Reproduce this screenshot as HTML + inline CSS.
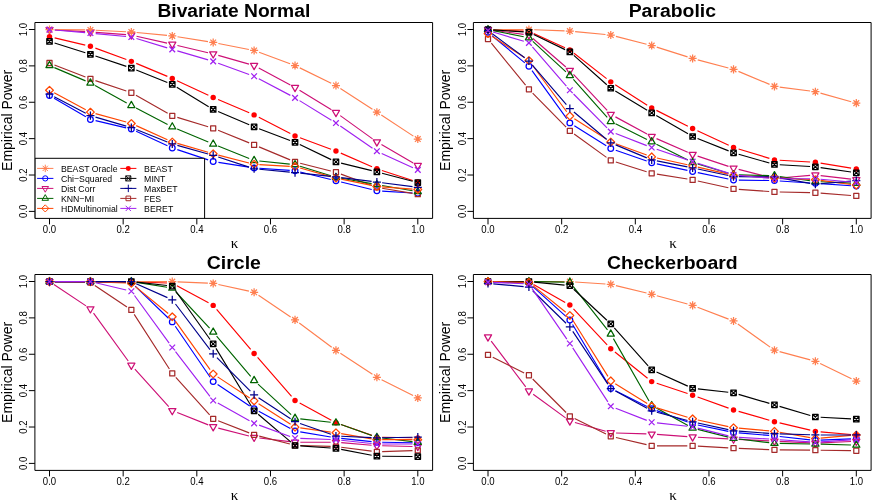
<!DOCTYPE html>
<html><head><meta charset="utf-8"><title>Empirical Power</title><style>html,body{margin:0;padding:0;background:#fff}
body{width:877px;height:504px;overflow:hidden}
svg{display:block;will-change:transform}
path,rect,circle{stroke-linejoin:round}
text{font-family:"Liberation Sans",sans-serif;fill:#000}
.tk{font-size:9.6px;text-anchor:middle}
.ti{font-size:18px;font-weight:bold;text-anchor:middle}
.yl{font-size:14px;text-anchor:middle}
.xl{font-family:"Liberation Serif",serif;font-size:15px;text-anchor:middle}
.lg{font-size:8.75px}
</style></head><body><svg width="877" height="504" viewBox="0 0 877 504"><defs><clipPath id="cb"><rect x="34.9" y="22.5" width="397.7" height="195.9"/></clipPath></defs><rect width="877" height="504" fill="#fff"/><g transform="translate(0,0)"><g clip-path="url(#cb)"><path d="M54.07 98.16L85.85 116.76M95.58 120.66L126.19 127.85M136.16 131.28L167.45 145.72M177.3 149.61L208.16 159.88M218.43 162.36L248.87 167.09M259.4 168.28L289.75 170.43M300.18 172.06L330.81 179.53M341.1 182.05L371.73 189.52M382.17 191.1L412.51 192.98" stroke="#0000FF" stroke-width="1.15" fill="none"/><circle cx="49.5" cy="95.48" r="2.85" stroke="#0000FF" stroke-width="1.25" fill="none"/><circle cx="90.42" cy="119.44" r="2.85" stroke="#0000FF" stroke-width="1.25" fill="none"/><circle cx="131.34" cy="129.06" r="2.85" stroke="#0000FF" stroke-width="1.25" fill="none"/><circle cx="172.27" cy="147.94" r="2.85" stroke="#0000FF" stroke-width="1.25" fill="none"/><circle cx="213.19" cy="161.55" r="2.85" stroke="#0000FF" stroke-width="1.25" fill="none"/><circle cx="254.11" cy="167.9" r="2.85" stroke="#0000FF" stroke-width="1.25" fill="none"/><circle cx="295.03" cy="170.81" r="2.85" stroke="#0000FF" stroke-width="1.25" fill="none"/><circle cx="335.96" cy="180.79" r="2.85" stroke="#0000FF" stroke-width="1.25" fill="none"/><circle cx="376.88" cy="190.77" r="2.85" stroke="#0000FF" stroke-width="1.25" fill="none"/><circle cx="417.8" cy="193.31" r="2.85" stroke="#0000FF" stroke-width="1.25" fill="none"/><path d="M54.79 29.91L85.13 31.65M95.71 32.36L126.06 34.65M136.51 36.21L167.1 43.13M177.43 45.51L208.03 52.71M218.29 55.37L249.01 64.09M258.78 68.04L290.36 84.99M299.55 90.27L331.44 109.78M340.26 115.64L372.57 138.86M381.47 144.6L413.21 162.9" stroke="#CD1076" stroke-width="1.15" fill="none"/><path d="M49.5 33.72L53.07 27.54L45.93 27.54Z" stroke="#CD1076" stroke-width="1.25" fill="none"/><path d="M90.42 36.08L93.99 29.9L86.85 29.9Z" stroke="#CD1076" stroke-width="1.25" fill="none"/><path d="M131.34 39.17L134.91 32.98L127.77 32.98Z" stroke="#CD1076" stroke-width="1.25" fill="none"/><path d="M172.27 48.42L175.84 42.24L168.7 42.24Z" stroke="#CD1076" stroke-width="1.25" fill="none"/><path d="M213.19 58.04L216.76 51.86L209.62 51.86Z" stroke="#CD1076" stroke-width="1.25" fill="none"/><path d="M254.11 69.66L257.68 63.48L250.54 63.48Z" stroke="#CD1076" stroke-width="1.25" fill="none"/><path d="M295.03 91.62L298.6 85.44L291.46 85.44Z" stroke="#CD1076" stroke-width="1.25" fill="none"/><path d="M335.96 116.67L339.53 110.48L332.39 110.48Z" stroke="#CD1076" stroke-width="1.25" fill="none"/><path d="M376.88 146.07L380.45 139.89L373.31 139.89Z" stroke="#CD1076" stroke-width="1.25" fill="none"/><path d="M417.8 169.67L421.37 163.48L414.23 163.48Z" stroke="#CD1076" stroke-width="1.25" fill="none"/><path d="M54.44 64.92L85.48 77.04M95.44 80.66L126.32 91.07M135.96 95.36L167.65 113.21M177.33 117.36L208.12 126.79M218.1 130.32L249.2 142.87M259 146.89L290.14 159.87M300.17 163.21L330.82 170.96M340.93 174.09L371.9 185.49M382.1 188.2L412.57 193.34" stroke="#A52A2A" stroke-width="1.15" fill="none"/><rect x="46.97" y="60.47" width="5.05" height="5.05" stroke="#A52A2A" stroke-width="1.25" fill="none"/><rect x="87.9" y="76.44" width="5.05" height="5.05" stroke="#A52A2A" stroke-width="1.25" fill="none"/><rect x="128.82" y="90.24" width="5.05" height="5.05" stroke="#A52A2A" stroke-width="1.25" fill="none"/><rect x="169.74" y="113.29" width="5.05" height="5.05" stroke="#A52A2A" stroke-width="1.25" fill="none"/><rect x="210.66" y="125.81" width="5.05" height="5.05" stroke="#A52A2A" stroke-width="1.25" fill="none"/><rect x="251.59" y="142.33" width="5.05" height="5.05" stroke="#A52A2A" stroke-width="1.25" fill="none"/><rect x="292.51" y="159.39" width="5.05" height="5.05" stroke="#A52A2A" stroke-width="1.25" fill="none"/><rect x="333.43" y="169.73" width="5.05" height="5.05" stroke="#A52A2A" stroke-width="1.25" fill="none"/><rect x="374.35" y="184.8" width="5.05" height="5.05" stroke="#A52A2A" stroke-width="1.25" fill="none"/><rect x="415.27" y="191.69" width="5.05" height="5.05" stroke="#A52A2A" stroke-width="1.25" fill="none"/><path d="M54.66 37.89L85.26 45.09M95.4 48.13L126.37 59.53M136.24 63.4L167.37 76.38M177.07 80.66L208.38 95.24M218.07 99.56L249.23 112.83M258.82 117.33L290.32 133.53M300.01 137.79L330.98 149.19M340.82 153.14L372.02 166.7M381.92 170.44L412.76 180.43" stroke="#FF0000" stroke-width="1.15" fill="none"/><circle cx="49.5" cy="36.68" r="2.71" fill="#FF0000"/><circle cx="90.42" cy="46.3" r="2.71" fill="#FF0000"/><circle cx="131.34" cy="61.36" r="2.71" fill="#FF0000"/><circle cx="172.27" cy="78.42" r="2.71" fill="#FF0000"/><circle cx="213.19" cy="97.48" r="2.71" fill="#FF0000"/><circle cx="254.11" cy="114.9" r="2.71" fill="#FF0000"/><circle cx="295.03" cy="135.96" r="2.71" fill="#FF0000"/><circle cx="335.96" cy="151.02" r="2.71" fill="#FF0000"/><circle cx="376.88" cy="168.81" r="2.71" fill="#FF0000"/><circle cx="417.8" cy="182.06" r="2.71" fill="#FF0000"/><path d="M54.8 29.65L85.12 29.92M95.72 30.22L126.05 31.7M136.62 32.47L166.99 35.44M177.5 36.79L207.96 41.65M218.39 43.5L248.91 49.46M259.08 52.3L290.06 63.71M299.8 67.86L331.19 83.18M340.4 88.4L372.44 109.29M381.31 115.09L413.37 136.14" stroke="#FF7F50" stroke-width="1.15" fill="none"/><path d="M46.65 26.75L52.35 32.45M46.65 32.45L52.35 26.75M45.47 29.6H53.53M49.5 25.57V33.63" stroke="#FF7F50" stroke-width="1.25" fill="none"/><path d="M87.57 27.11L93.27 32.81M87.57 32.81L93.27 27.11M86.39 29.96H94.45M90.42 25.93V33.99" stroke="#FF7F50" stroke-width="1.25" fill="none"/><path d="M128.49 29.11L134.19 34.81M128.49 34.81L134.19 29.11M127.31 31.96H135.37M131.34 27.93V35.99" stroke="#FF7F50" stroke-width="1.25" fill="none"/><path d="M169.42 33.1L175.12 38.8M169.42 38.8L175.12 33.1M168.24 35.95H176.3M172.27 31.92V39.98" stroke="#FF7F50" stroke-width="1.25" fill="none"/><path d="M210.34 39.64L216.04 45.34M210.34 45.34L216.04 39.64M209.16 42.49H217.22M213.19 38.46V46.52" stroke="#FF7F50" stroke-width="1.25" fill="none"/><path d="M251.26 47.62L256.96 53.32M251.26 53.32L256.96 47.62M250.08 50.47H258.14M254.11 46.44V54.5" stroke="#FF7F50" stroke-width="1.25" fill="none"/><path d="M292.18 62.69L297.88 68.39M292.18 68.39L297.88 62.69M291 65.54H299.06M295.03 61.51V69.57" stroke="#FF7F50" stroke-width="1.25" fill="none"/><path d="M333.11 82.65L338.81 88.35M333.11 88.35L338.81 82.65M331.93 85.5H339.99M335.96 81.47V89.53" stroke="#FF7F50" stroke-width="1.25" fill="none"/><path d="M374.03 109.33L379.73 115.03M374.03 115.03L379.73 109.33M372.85 112.18H380.91M376.88 108.15V116.21" stroke="#FF7F50" stroke-width="1.25" fill="none"/><path d="M414.95 136.19L420.65 141.89M414.95 141.89L420.65 136.19M413.77 139.04H421.83M417.8 135.01V143.07" stroke="#FF7F50" stroke-width="1.25" fill="none"/><path d="M54.38 67.61L85.55 80.88M95.07 85.52L126.7 102.91M136.04 107.92L167.57 124.43M177.15 128.94L208.3 142.07M218.11 146.09L249.19 158.5M259.38 161L289.76 164.1M300.09 166.21L330.89 175.77M341.17 178.27L371.66 183.68M382.1 185.5L412.58 190.78" stroke="#006400" stroke-width="1.15" fill="none"/><path d="M49.5 61.42L53.07 67.6L45.93 67.6Z" stroke="#006400" stroke-width="1.25" fill="none"/><path d="M90.42 78.84L93.99 85.02L86.85 85.02Z" stroke="#006400" stroke-width="1.25" fill="none"/><path d="M131.34 101.35L134.91 107.53L127.77 107.53Z" stroke="#006400" stroke-width="1.25" fill="none"/><path d="M172.27 122.76L175.84 128.94L168.7 128.94Z" stroke="#006400" stroke-width="1.25" fill="none"/><path d="M213.19 140L216.76 146.19L209.62 146.19Z" stroke="#006400" stroke-width="1.25" fill="none"/><path d="M254.11 156.34L257.68 162.52L250.54 162.52Z" stroke="#006400" stroke-width="1.25" fill="none"/><path d="M295.03 160.51L298.6 166.7L291.46 166.7Z" stroke="#006400" stroke-width="1.25" fill="none"/><path d="M335.96 173.22L339.53 179.4L332.39 179.4Z" stroke="#006400" stroke-width="1.25" fill="none"/><path d="M376.88 180.48L380.45 186.66L373.31 186.66Z" stroke="#006400" stroke-width="1.25" fill="none"/><path d="M417.8 187.56L421.37 193.74L414.23 193.74Z" stroke="#006400" stroke-width="1.25" fill="none"/><path d="M54.56 42.99L85.37 52.69M95.44 55.98L126.32 66.39M136.27 70.04L167.34 82.45M176.79 87.18L208.67 106.69M218.07 111.54L249.23 124.81M259.07 128.75L290.07 140.44M299.81 144.6L331.18 159.62M341.1 163.17L371.73 170.64M382.01 173.24L412.67 181.26" stroke="#000000" stroke-width="1.15" fill="none"/><path d="M46.76 38.66H52.24V44.13H46.76ZM46.76 38.66L52.24 44.13M46.76 44.13L52.24 38.66" stroke="#000000" stroke-width="1.23" fill="none"/><path d="M87.69 51.55H93.16V57.02H87.69ZM87.69 51.55L93.16 57.02M87.69 57.02L93.16 51.55" stroke="#000000" stroke-width="1.23" fill="none"/><path d="M128.61 65.34H134.08V70.81H128.61ZM128.61 65.34L134.08 70.81M128.61 70.81L134.08 65.34" stroke="#000000" stroke-width="1.23" fill="none"/><path d="M169.53 81.68H175V87.15H169.53ZM169.53 81.68L175 87.15M169.53 87.15L175 81.68" stroke="#000000" stroke-width="1.23" fill="none"/><path d="M210.45 106.72H215.92V112.2H210.45ZM210.45 106.72L215.92 112.2M210.45 112.2L215.92 106.72" stroke="#000000" stroke-width="1.23" fill="none"/><path d="M251.38 124.15H256.85V129.62H251.38ZM251.38 124.15L256.85 129.62M251.38 129.62L256.85 124.15" stroke="#000000" stroke-width="1.23" fill="none"/><path d="M292.3 139.58H297.77V145.05H292.3ZM292.3 139.58L297.77 145.05M292.3 145.05L297.77 139.58" stroke="#000000" stroke-width="1.23" fill="none"/><path d="M333.22 159.18H338.69V164.65H333.22ZM333.22 159.18L338.69 164.65M333.22 164.65L338.69 159.18" stroke="#000000" stroke-width="1.23" fill="none"/><path d="M374.14 169.16H379.61V174.63H374.14ZM374.14 169.16L379.61 174.63M374.14 174.63L379.61 169.16" stroke="#000000" stroke-width="1.23" fill="none"/><path d="M415.06 179.87H420.54V185.34H415.06ZM415.06 179.87L420.54 185.34M415.06 185.34L420.54 179.87" stroke="#000000" stroke-width="1.23" fill="none"/><path d="M54.17 92.73L85.75 109.68M95.53 113.59L126.23 122.03M136.17 125.62L167.44 139.76M177.36 143.42L208.1 152.28M218.32 155.07L248.98 162.95M259.4 164.58L289.74 166.33M300.14 168.06L330.85 176.64M341.15 179.13L371.68 185.36M382.16 186.81L412.52 189.1" stroke="#FF4500" stroke-width="1.15" fill="none"/><path d="M45.63 90.22L49.5 86.35L53.37 90.22L49.5 94.09Z" stroke="#FF4500" stroke-width="1.25" fill="none"/><path d="M86.55 112.18L90.42 108.31L94.29 112.18L90.42 116.05Z" stroke="#FF4500" stroke-width="1.25" fill="none"/><path d="M127.48 123.44L131.34 119.57L135.21 123.44L131.34 127.3Z" stroke="#FF4500" stroke-width="1.25" fill="none"/><path d="M168.4 141.95L172.27 138.08L176.14 141.95L172.27 145.82Z" stroke="#FF4500" stroke-width="1.25" fill="none"/><path d="M209.32 153.75L213.19 149.88L217.06 153.75L213.19 157.62Z" stroke="#FF4500" stroke-width="1.25" fill="none"/><path d="M250.24 164.27L254.11 160.4L257.98 164.27L254.11 168.14Z" stroke="#FF4500" stroke-width="1.25" fill="none"/><path d="M291.16 166.63L295.03 162.76L298.9 166.63L295.03 170.5Z" stroke="#FF4500" stroke-width="1.25" fill="none"/><path d="M332.09 178.07L335.96 174.2L339.82 178.07L335.96 181.94Z" stroke="#FF4500" stroke-width="1.25" fill="none"/><path d="M373.01 186.42L376.88 182.55L380.75 186.42L376.88 190.29Z" stroke="#FF4500" stroke-width="1.25" fill="none"/><path d="M413.93 189.5L417.8 185.63L421.67 189.5L417.8 193.37Z" stroke="#FF4500" stroke-width="1.25" fill="none"/><path d="M54.2 96.67L85.73 113.17M95.51 117.12L126.26 126.12M136.27 129.57L167.34 141.98M177.37 145.37L208.08 153.95M218.22 157.03L249.08 167.16M259.39 169.3L289.76 172.13M300.3 173.18L330.69 176.42M341.22 177.63L371.62 181.41M382.13 182.74L412.54 186.65" stroke="#00008B" stroke-width="1.15" fill="none"/><path d="M45.47 94.21H53.53M49.5 90.18V98.24" stroke="#00008B" stroke-width="1.25" fill="none"/><path d="M86.39 115.63H94.45M90.42 111.6V119.66" stroke="#00008B" stroke-width="1.25" fill="none"/><path d="M127.31 127.61H135.37M131.34 123.58V131.64" stroke="#00008B" stroke-width="1.25" fill="none"/><path d="M168.24 143.94H176.3M172.27 139.91V147.98" stroke="#00008B" stroke-width="1.25" fill="none"/><path d="M209.16 155.38H217.22M213.19 151.35V159.41" stroke="#00008B" stroke-width="1.25" fill="none"/><path d="M250.08 168.81H258.14M254.11 164.78V172.84" stroke="#00008B" stroke-width="1.25" fill="none"/><path d="M291 172.62H299.06M295.03 168.59V176.65" stroke="#00008B" stroke-width="1.25" fill="none"/><path d="M331.93 176.98H339.99M335.96 172.95V181.01" stroke="#00008B" stroke-width="1.25" fill="none"/><path d="M372.85 182.06H380.91M376.88 178.03V186.09" stroke="#00008B" stroke-width="1.25" fill="none"/><path d="M413.77 187.32H421.83M417.8 183.29V191.35" stroke="#00008B" stroke-width="1.25" fill="none"/><path d="M54.78 30.05L85.14 32.6M95.7 33.56L126.07 36.53M136.42 38.57L167.19 47.85M177.35 50.87L208.1 59.87M218.17 63.17L249.13 74.43M258.8 78.72L290.35 95.37M299.54 100.63L331.44 120.29M340.32 126.07L372.51 148.2M381.7 153.41L412.98 167.7" stroke="#A020F0" stroke-width="1.15" fill="none"/><path d="M46.65 26.75L52.35 32.45M46.65 32.45L52.35 26.75" stroke="#A020F0" stroke-width="1.25" fill="none"/><path d="M87.57 30.2L93.27 35.9M87.57 35.9L93.27 30.2" stroke="#A020F0" stroke-width="1.25" fill="none"/><path d="M128.49 34.19L134.19 39.89M128.49 39.89L134.19 34.19" stroke="#A020F0" stroke-width="1.25" fill="none"/><path d="M169.42 46.53L175.12 52.23M169.42 52.23L175.12 46.53" stroke="#A020F0" stroke-width="1.25" fill="none"/><path d="M210.34 58.51L216.04 64.21M210.34 64.21L216.04 58.51" stroke="#A020F0" stroke-width="1.25" fill="none"/><path d="M251.26 73.4L256.96 79.1M251.26 79.1L256.96 73.4" stroke="#A020F0" stroke-width="1.25" fill="none"/><path d="M292.18 94.99L297.88 100.69M292.18 100.69L297.88 94.99" stroke="#A020F0" stroke-width="1.25" fill="none"/><path d="M333.11 120.22L338.81 125.92M333.11 125.92L338.81 120.22" stroke="#A020F0" stroke-width="1.25" fill="none"/><path d="M374.03 148.35L379.73 154.05M374.03 154.05L379.73 148.35" stroke="#A020F0" stroke-width="1.25" fill="none"/><path d="M414.95 167.05L420.65 172.75M414.95 172.75L420.65 167.05" stroke="#A020F0" stroke-width="1.25" fill="none"/><rect x="34.9" y="158.3" width="169.7" height="80" fill="#fff" stroke="#000" stroke-width="1"/><path d="M37.1 168.4H53.4" stroke="#FF7F50" stroke-width="1" fill="none"/><path d="M42.63 165.78L47.87 171.02M42.63 171.02L47.87 165.78M41.54 168.4H48.96M45.25 164.69V172.11" stroke="#FF7F50" stroke-width="1" fill="none"/><text transform="translate(60.9,171.55) scale(1,1.06)" class="lg">BEAST Oracle</text><path d="M37.1 178.4H53.4" stroke="#0000FF" stroke-width="1" fill="none"/><circle cx="45.25" cy="178.4" r="2.62" stroke="#0000FF" stroke-width="1" fill="none"/><text transform="translate(60.9,181.55) scale(1,1.06)" class="lg">Chi−Squared</text><path d="M37.1 188.4H53.4" stroke="#CD1076" stroke-width="1" fill="none"/><path d="M45.25 192.19L48.53 186.5L41.97 186.5Z" stroke="#CD1076" stroke-width="1" fill="none"/><text transform="translate(60.9,191.55) scale(1,1.06)" class="lg">Dist Corr</text><path d="M37.1 198.4H53.4" stroke="#006400" stroke-width="1" fill="none"/><path d="M45.25 194.61L48.53 200.3L41.97 200.3Z" stroke="#006400" stroke-width="1" fill="none"/><text transform="translate(60.9,201.55) scale(1,1.06)" class="lg">KNN−MI</text><path d="M37.1 208.4H53.4" stroke="#FF4500" stroke-width="1" fill="none"/><path d="M41.69 208.4L45.25 204.84L48.81 208.4L45.25 211.96Z" stroke="#FF4500" stroke-width="1" fill="none"/><text transform="translate(60.9,211.55) scale(1,1.06)" class="lg">HDMultinomial</text><path d="M120.3 168.4H136.4" stroke="#FF0000" stroke-width="1" fill="none"/><circle cx="128.3" cy="168.4" r="2.49" fill="#FF0000"/><text transform="translate(144.1,171.55) scale(1,1.06)" class="lg">BEAST</text><path d="M120.3 178.4H136.4" stroke="#000000" stroke-width="1" fill="none"/><path d="M125.78 175.88H130.82V180.92H125.78ZM125.78 175.88L130.82 180.92M125.78 180.92L130.82 175.88" stroke="#000000" stroke-width="0.98" fill="none"/><text transform="translate(144.1,181.55) scale(1,1.06)" class="lg">MINT</text><path d="M120.3 188.4H136.4" stroke="#00008B" stroke-width="1" fill="none"/><path d="M124.59 188.4H132.01M128.3 184.69V192.11" stroke="#00008B" stroke-width="1" fill="none"/><text transform="translate(144.1,191.55) scale(1,1.06)" class="lg">MaxBET</text><path d="M120.3 198.4H136.4" stroke="#A52A2A" stroke-width="1" fill="none"/><rect x="125.98" y="196.08" width="4.65" height="4.65" stroke="#A52A2A" stroke-width="1" fill="none"/><text transform="translate(144.1,201.55) scale(1,1.06)" class="lg">FES</text><path d="M120.3 208.4H136.4" stroke="#A020F0" stroke-width="1" fill="none"/><path d="M125.68 205.78L130.92 211.02M125.68 211.02L130.92 205.78" stroke="#A020F0" stroke-width="1" fill="none"/><text transform="translate(144.1,211.55) scale(1,1.06)" class="lg">BERET</text></g><rect x="34.9" y="22.5" width="397.7" height="195.9" fill="none" stroke="#000" stroke-width="1"/><text transform="translate(49.5,233.1) scale(1,1.1)" class="tk">0.0</text><text transform="translate(27.1,211.4) rotate(-90) scale(1,1.1)" class="tk">0.0</text><text transform="translate(123.16,233.1) scale(1,1.1)" class="tk">0.2</text><text transform="translate(27.1,175.02) rotate(-90) scale(1,1.1)" class="tk">0.2</text><text transform="translate(196.82,233.1) scale(1,1.1)" class="tk">0.4</text><text transform="translate(27.1,138.64) rotate(-90) scale(1,1.1)" class="tk">0.4</text><text transform="translate(270.48,233.1) scale(1,1.1)" class="tk">0.6</text><text transform="translate(27.1,102.26) rotate(-90) scale(1,1.1)" class="tk">0.6</text><text transform="translate(344.14,233.1) scale(1,1.1)" class="tk">0.8</text><text transform="translate(27.1,65.88) rotate(-90) scale(1,1.1)" class="tk">0.8</text><text transform="translate(417.8,233.1) scale(1,1.1)" class="tk">1.0</text><text transform="translate(27.1,29.5) rotate(-90) scale(1,1.1)" class="tk">1.0</text><path d="M49.5 218.4V224.4M34.9 211.4H28.9M123.16 218.4V224.4M34.9 175.02H28.9M196.82 218.4V224.4M34.9 138.64H28.9M270.48 218.4V224.4M34.9 102.26H28.9M344.14 218.4V224.4M34.9 65.88H28.9M417.8 218.4V224.4M34.9 29.5H28.9" stroke="#000" stroke-width="1" fill="none"/><text x="233.85" y="17.4" class="ti" textLength="152.8" lengthAdjust="spacingAndGlyphs">Bivariate Normal</text><text transform="translate(11.7,120.4) rotate(-90)" class="yl">Empirical Power</text><text x="234.6" y="247.9" class="xl">κ</text></g><g transform="translate(438.5,0)"><g clip-path="url(#cb)"><path d="M53.58 35.71L86.34 62.88M93.53 70.56L128.24 118.6M135.84 125.7L167.77 145.67M177.27 150.24L208.19 161.07M218.37 163.92L248.93 170.43M259.3 172.61L289.84 178.98M300.33 180.13L330.66 180.54M341.24 180.96L371.59 182.98M382.17 183.68L412.51 185.7" stroke="#0000FF" stroke-width="1.15" fill="none"/><circle cx="49.5" cy="32.32" r="2.85" stroke="#0000FF" stroke-width="1.25" fill="none"/><circle cx="90.42" cy="66.26" r="2.85" stroke="#0000FF" stroke-width="1.25" fill="none"/><circle cx="131.34" cy="122.89" r="2.85" stroke="#0000FF" stroke-width="1.25" fill="none"/><circle cx="172.27" cy="148.48" r="2.85" stroke="#0000FF" stroke-width="1.25" fill="none"/><circle cx="213.19" cy="162.82" r="2.85" stroke="#0000FF" stroke-width="1.25" fill="none"/><circle cx="254.11" cy="171.53" r="2.85" stroke="#0000FF" stroke-width="1.25" fill="none"/><circle cx="295.03" cy="180.06" r="2.85" stroke="#0000FF" stroke-width="1.25" fill="none"/><circle cx="335.96" cy="180.61" r="2.85" stroke="#0000FF" stroke-width="1.25" fill="none"/><circle cx="376.88" cy="183.33" r="2.85" stroke="#0000FF" stroke-width="1.25" fill="none"/><circle cx="417.8" cy="186.05" r="2.85" stroke="#0000FF" stroke-width="1.25" fill="none"/><path d="M54.75 30.3L85.17 34.35M94.43 38.51L127.34 66.97M134.96 74.32L168.65 110.48M176.93 116.88L208.53 133.98M218.04 138.63L249.26 152.34M259.14 156.14L290 166.41M300.17 169.38L330.82 177.13M341.24 177.98L371.6 175.43M382.14 175.59L412.53 179.09" stroke="#CD1076" stroke-width="1.15" fill="none"/><path d="M49.5 33.72L53.07 27.54L45.93 27.54Z" stroke="#CD1076" stroke-width="1.25" fill="none"/><path d="M90.42 39.17L93.99 32.98L86.85 32.98Z" stroke="#CD1076" stroke-width="1.25" fill="none"/><path d="M131.34 74.56L134.91 68.38L127.77 68.38Z" stroke="#CD1076" stroke-width="1.25" fill="none"/><path d="M172.27 118.48L175.84 112.3L168.7 112.3Z" stroke="#CD1076" stroke-width="1.25" fill="none"/><path d="M213.19 140.63L216.76 134.44L209.62 134.44Z" stroke="#CD1076" stroke-width="1.25" fill="none"/><path d="M254.11 158.59L257.68 152.41L250.54 152.41Z" stroke="#CD1076" stroke-width="1.25" fill="none"/><path d="M295.03 172.21L298.6 166.02L291.46 166.02Z" stroke="#CD1076" stroke-width="1.25" fill="none"/><path d="M335.96 182.55L339.53 176.37L332.39 176.37Z" stroke="#CD1076" stroke-width="1.25" fill="none"/><path d="M376.88 179.1L380.45 172.92L373.31 172.92Z" stroke="#CD1076" stroke-width="1.25" fill="none"/><path d="M417.8 183.82L421.37 177.64L414.23 177.64Z" stroke="#CD1076" stroke-width="1.25" fill="none"/><path d="M52.85 43.15L87.08 85.2M94.14 93.09L127.63 127.1M135.64 133.98L167.97 157.36M177.32 162.05L208.13 171.76M218.42 174.18L248.88 179.05M259.29 181.03L289.86 187.81M300.32 189.33L330.67 191.49M341.25 191.98L371.58 192.65M382.16 193.17L412.52 195.46" stroke="#A52A2A" stroke-width="1.15" fill="none"/><rect x="46.97" y="36.51" width="5.05" height="5.05" stroke="#A52A2A" stroke-width="1.25" fill="none"/><rect x="87.9" y="86.79" width="5.05" height="5.05" stroke="#A52A2A" stroke-width="1.25" fill="none"/><rect x="128.82" y="128.35" width="5.05" height="5.05" stroke="#A52A2A" stroke-width="1.25" fill="none"/><rect x="169.74" y="157.94" width="5.05" height="5.05" stroke="#A52A2A" stroke-width="1.25" fill="none"/><rect x="210.66" y="170.82" width="5.05" height="5.05" stroke="#A52A2A" stroke-width="1.25" fill="none"/><rect x="251.59" y="177.36" width="5.05" height="5.05" stroke="#A52A2A" stroke-width="1.25" fill="none"/><rect x="292.51" y="186.43" width="5.05" height="5.05" stroke="#A52A2A" stroke-width="1.25" fill="none"/><rect x="333.43" y="189.34" width="5.05" height="5.05" stroke="#A52A2A" stroke-width="1.25" fill="none"/><rect x="374.35" y="190.24" width="5.05" height="5.05" stroke="#A52A2A" stroke-width="1.25" fill="none"/><rect x="415.27" y="193.33" width="5.05" height="5.05" stroke="#A52A2A" stroke-width="1.25" fill="none"/><path d="M54.79 29.83L85.13 31.18M95.25 33.6L126.52 47.74M135.52 53.19L168.09 78.61M176.73 84.72L208.72 105.16M217.93 110.38L249.37 126.14M258.92 130.74L290.22 145.17M300.1 148.94L330.89 158.37M341.25 160.22L371.59 161.97M382.11 163.13L412.57 168.13" stroke="#FF0000" stroke-width="1.15" fill="none"/><circle cx="49.5" cy="29.6" r="2.71" fill="#FF0000"/><circle cx="90.42" cy="31.41" r="2.71" fill="#FF0000"/><circle cx="131.34" cy="49.93" r="2.71" fill="#FF0000"/><circle cx="172.27" cy="81.87" r="2.71" fill="#FF0000"/><circle cx="213.19" cy="108.01" r="2.71" fill="#FF0000"/><circle cx="254.11" cy="128.52" r="2.71" fill="#FF0000"/><circle cx="295.03" cy="147.39" r="2.71" fill="#FF0000"/><circle cx="335.96" cy="159.92" r="2.71" fill="#FF0000"/><circle cx="376.88" cy="162.28" r="2.71" fill="#FF0000"/><circle cx="417.8" cy="168.99" r="2.71" fill="#FF0000"/><path d="M54.8 29.6L85.12 29.6M95.72 29.79L126.05 30.86M136.62 31.57L166.99 34.53M177.4 36.37L208.06 44.25M218.24 47.16L249.06 56.87M259.23 59.82L289.91 67.99M299.93 71.39L331.06 84.37M341.21 87.09L371.62 91M381.98 93.1L412.7 101.68" stroke="#FF7F50" stroke-width="1.15" fill="none"/><path d="M46.65 26.75L52.35 32.45M46.65 32.45L52.35 26.75M45.47 29.6H53.53M49.5 25.57V33.63" stroke="#FF7F50" stroke-width="1.25" fill="none"/><path d="M87.57 26.75L93.27 32.45M87.57 32.45L93.27 26.75M86.39 29.6H94.45M90.42 25.57V33.63" stroke="#FF7F50" stroke-width="1.25" fill="none"/><path d="M128.49 28.2L134.19 33.9M128.49 33.9L134.19 28.2M127.31 31.05H135.37M131.34 27.02V35.08" stroke="#FF7F50" stroke-width="1.25" fill="none"/><path d="M169.42 32.19L175.12 37.89M169.42 37.89L175.12 32.19M168.24 35.04H176.3M172.27 31.01V39.08" stroke="#FF7F50" stroke-width="1.25" fill="none"/><path d="M210.34 42.72L216.04 48.42M210.34 48.42L216.04 42.72M209.16 45.57H217.22M213.19 41.54V49.6" stroke="#FF7F50" stroke-width="1.25" fill="none"/><path d="M251.26 55.61L256.96 61.31M251.26 61.31L256.96 55.61M250.08 58.46H258.14M254.11 54.43V62.49" stroke="#FF7F50" stroke-width="1.25" fill="none"/><path d="M292.18 66.5L297.88 72.2M292.18 72.2L297.88 66.5M291 69.35H299.06M295.03 65.32V73.38" stroke="#FF7F50" stroke-width="1.25" fill="none"/><path d="M333.11 83.56L338.81 89.26M333.11 89.26L338.81 83.56M331.93 86.41H339.99M335.96 82.38V90.44" stroke="#FF7F50" stroke-width="1.25" fill="none"/><path d="M374.03 88.82L379.73 94.52M374.03 94.52L379.73 88.82M372.85 91.67H380.91M376.88 87.64V95.7" stroke="#FF7F50" stroke-width="1.25" fill="none"/><path d="M414.95 100.26L420.65 105.96M414.95 105.96L420.65 100.26M413.77 103.11H421.83M417.8 99.08V107.14" stroke="#FF7F50" stroke-width="1.25" fill="none"/><path d="M54.7 30.64L85.22 36.73M94.32 41.36L127.45 71.93M134.87 79.48L168.74 117.48M177.01 123.8L208.44 139.41M217.92 144.16L249.38 160.07M259.19 163.99L289.96 173.27M300.33 174.92L330.66 175.59M341.2 176.45L371.63 180.77M382.17 181.75L412.51 183.1" stroke="#006400" stroke-width="1.15" fill="none"/><path d="M49.5 25.48L53.07 31.66L45.93 31.66Z" stroke="#006400" stroke-width="1.25" fill="none"/><path d="M90.42 33.65L93.99 39.83L86.85 39.83Z" stroke="#006400" stroke-width="1.25" fill="none"/><path d="M131.34 71.4L134.91 77.58L127.77 77.58Z" stroke="#006400" stroke-width="1.25" fill="none"/><path d="M172.27 117.32L175.84 123.5L168.7 123.5Z" stroke="#006400" stroke-width="1.25" fill="none"/><path d="M213.19 137.65L216.76 143.83L209.62 143.83Z" stroke="#006400" stroke-width="1.25" fill="none"/><path d="M254.11 158.34L257.68 164.52L250.54 164.52Z" stroke="#006400" stroke-width="1.25" fill="none"/><path d="M295.03 170.68L298.6 176.86L291.46 176.86Z" stroke="#006400" stroke-width="1.25" fill="none"/><path d="M335.96 171.59L339.53 177.77L332.39 177.77Z" stroke="#006400" stroke-width="1.25" fill="none"/><path d="M376.88 177.39L380.45 183.58L373.31 183.58Z" stroke="#006400" stroke-width="1.25" fill="none"/><path d="M417.8 179.21L421.37 185.39L414.23 185.39Z" stroke="#006400" stroke-width="1.25" fill="none"/><path d="M54.79 29.93L85.13 31.81M95.19 34.45L126.57 49.62M135.31 55.44L168.3 84.71M176.8 90.96L208.65 110.17M217.78 115.56L249.52 133.86M259.03 138.47L290.11 150.87M300.13 154.29L330.86 163.01M341.25 164.76L371.59 166.51M382.12 167.58L412.56 172.04" stroke="#000000" stroke-width="1.15" fill="none"/><path d="M46.76 26.86H52.24V32.34H46.76ZM46.76 26.86L52.24 32.34M46.76 32.34L52.24 26.86" stroke="#000000" stroke-width="1.23" fill="none"/><path d="M87.69 29.4H93.16V34.88H87.69ZM87.69 29.4L93.16 34.88M87.69 34.88L93.16 29.4" stroke="#000000" stroke-width="1.23" fill="none"/><path d="M128.61 49.19H134.08V54.66H128.61ZM128.61 49.19L134.08 54.66M128.61 54.66L134.08 49.19" stroke="#000000" stroke-width="1.23" fill="none"/><path d="M169.53 85.49H175V90.96H169.53ZM169.53 85.49L175 90.96M169.53 90.96L175 85.49" stroke="#000000" stroke-width="1.23" fill="none"/><path d="M210.45 110.17H215.92V115.64H210.45ZM210.45 110.17L215.92 115.64M210.45 115.64L215.92 110.17" stroke="#000000" stroke-width="1.23" fill="none"/><path d="M251.38 133.77H256.85V139.24H251.38ZM251.38 133.77L256.85 139.24M251.38 139.24L256.85 133.77" stroke="#000000" stroke-width="1.23" fill="none"/><path d="M292.3 150.1H297.77V155.57H292.3ZM292.3 150.1L297.77 155.57M292.3 155.57L297.77 150.1" stroke="#000000" stroke-width="1.23" fill="none"/><path d="M333.22 161.72H338.69V167.19H333.22ZM333.22 161.72L338.69 167.19M333.22 167.19L338.69 161.72" stroke="#000000" stroke-width="1.23" fill="none"/><path d="M374.14 164.08H379.61V169.55H374.14ZM374.14 164.08L379.61 169.55M374.14 169.55L379.61 164.08" stroke="#000000" stroke-width="1.23" fill="none"/><path d="M415.06 170.07H420.54V175.54H415.06ZM415.06 170.07L420.54 175.54M415.06 175.54L420.54 170.07" stroke="#000000" stroke-width="1.23" fill="none"/><path d="M53.93 36.5L85.99 57.55M93.57 64.72L128.2 111.73M135.82 118.83L167.79 139.11M177.25 143.76L208.21 155.02M218.36 157.98L248.94 164.76M259.28 167.1L289.87 174.15M300.32 175.67L330.67 177.56M341.25 178.12L371.58 179.47M382.13 180.4L412.55 184.45" stroke="#FF4500" stroke-width="1.15" fill="none"/><path d="M45.63 33.59L49.5 29.72L53.37 33.59L49.5 37.46Z" stroke="#FF4500" stroke-width="1.25" fill="none"/><path d="M86.55 60.46L90.42 56.59L94.29 60.46L90.42 64.32Z" stroke="#FF4500" stroke-width="1.25" fill="none"/><path d="M127.48 115.99L131.34 112.12L135.21 115.99L131.34 119.86Z" stroke="#FF4500" stroke-width="1.25" fill="none"/><path d="M168.4 141.95L172.27 138.08L176.14 141.95L172.27 145.82Z" stroke="#FF4500" stroke-width="1.25" fill="none"/><path d="M209.32 156.83L213.19 152.96L217.06 156.83L213.19 160.7Z" stroke="#FF4500" stroke-width="1.25" fill="none"/><path d="M250.24 165.91L254.11 162.04L257.98 165.91L254.11 169.78Z" stroke="#FF4500" stroke-width="1.25" fill="none"/><path d="M291.16 175.34L295.03 171.48L298.9 175.34L295.03 179.21Z" stroke="#FF4500" stroke-width="1.25" fill="none"/><path d="M332.09 177.89L335.96 174.02L339.82 177.89L335.96 181.75Z" stroke="#FF4500" stroke-width="1.25" fill="none"/><path d="M373.01 179.7L376.88 175.83L380.75 179.7L376.88 183.57Z" stroke="#FF4500" stroke-width="1.25" fill="none"/><path d="M413.93 185.15L417.8 181.28L421.67 185.15L417.8 189.01Z" stroke="#FF4500" stroke-width="1.25" fill="none"/><path d="M53.75 33.67L86.17 57.83M93.88 65.02L127.89 104.54M135.41 111.96L168.2 139.45M177.16 144.9L208.3 157.88M218.39 160.93L248.91 166.89M259.29 169.01L289.85 175.51M300.33 176.66L330.66 176.93M341.17 177.9L371.66 183.31M382.16 183.77L412.52 181.08" stroke="#00008B" stroke-width="1.15" fill="none"/><path d="M45.47 30.51H53.53M49.5 26.48V34.54" stroke="#00008B" stroke-width="1.25" fill="none"/><path d="M86.39 61H94.45M90.42 56.97V65.03" stroke="#00008B" stroke-width="1.25" fill="none"/><path d="M127.31 108.55H135.37M131.34 104.52V112.58" stroke="#00008B" stroke-width="1.25" fill="none"/><path d="M168.24 142.86H176.3M172.27 138.83V146.89" stroke="#00008B" stroke-width="1.25" fill="none"/><path d="M209.16 159.92H217.22M213.19 155.89V163.95" stroke="#00008B" stroke-width="1.25" fill="none"/><path d="M250.08 167.9H258.14M254.11 163.87V171.93" stroke="#00008B" stroke-width="1.25" fill="none"/><path d="M291 176.62H299.06M295.03 172.58V180.65" stroke="#00008B" stroke-width="1.25" fill="none"/><path d="M331.93 176.98H339.99M335.96 172.95V181.01" stroke="#00008B" stroke-width="1.25" fill="none"/><path d="M372.85 184.24H380.91M376.88 180.21V188.27" stroke="#00008B" stroke-width="1.25" fill="none"/><path d="M413.77 180.61H421.83M417.8 176.58V184.64" stroke="#00008B" stroke-width="1.25" fill="none"/><path d="M54.57 32.04L85.35 41.32M93.89 46.86L127.88 86.21M135.07 93.99L168.54 127.83M177.2 133.53L208.25 145.65M218.2 149.29L249.1 159.84M259.15 163.18L289.99 173.17M300.31 175.31L330.68 178.28M341.26 178.79L371.58 178.79M382.16 179.26L412.52 181.95" stroke="#A020F0" stroke-width="1.15" fill="none"/><path d="M46.65 27.66L52.35 33.36M46.65 33.36L52.35 27.66" stroke="#A020F0" stroke-width="1.25" fill="none"/><path d="M87.57 40L93.27 45.7M87.57 45.7L93.27 40" stroke="#A020F0" stroke-width="1.25" fill="none"/><path d="M128.49 87.37L134.19 93.07M128.49 93.07L134.19 87.37" stroke="#A020F0" stroke-width="1.25" fill="none"/><path d="M169.42 128.75L175.12 134.45M169.42 134.45L175.12 128.75" stroke="#A020F0" stroke-width="1.25" fill="none"/><path d="M210.34 144.72L216.04 150.42M210.34 150.42L216.04 144.72" stroke="#A020F0" stroke-width="1.25" fill="none"/><path d="M251.26 158.7L256.96 164.4M251.26 164.4L256.96 158.7" stroke="#A020F0" stroke-width="1.25" fill="none"/><path d="M292.18 171.95L297.88 177.65M292.18 177.65L297.88 171.95" stroke="#A020F0" stroke-width="1.25" fill="none"/><path d="M333.11 175.94L338.81 181.64M333.11 181.64L338.81 175.94" stroke="#A020F0" stroke-width="1.25" fill="none"/><path d="M374.03 175.94L379.73 181.64M374.03 181.64L379.73 175.94" stroke="#A020F0" stroke-width="1.25" fill="none"/><path d="M414.95 179.57L420.65 185.27M414.95 185.27L420.65 179.57" stroke="#A020F0" stroke-width="1.25" fill="none"/></g><rect x="34.9" y="22.5" width="397.7" height="195.9" fill="none" stroke="#000" stroke-width="1"/><text transform="translate(49.5,233.1) scale(1,1.1)" class="tk">0.0</text><text transform="translate(27.1,211.4) rotate(-90) scale(1,1.1)" class="tk">0.0</text><text transform="translate(123.16,233.1) scale(1,1.1)" class="tk">0.2</text><text transform="translate(27.1,175.02) rotate(-90) scale(1,1.1)" class="tk">0.2</text><text transform="translate(196.82,233.1) scale(1,1.1)" class="tk">0.4</text><text transform="translate(27.1,138.64) rotate(-90) scale(1,1.1)" class="tk">0.4</text><text transform="translate(270.48,233.1) scale(1,1.1)" class="tk">0.6</text><text transform="translate(27.1,102.26) rotate(-90) scale(1,1.1)" class="tk">0.6</text><text transform="translate(344.14,233.1) scale(1,1.1)" class="tk">0.8</text><text transform="translate(27.1,65.88) rotate(-90) scale(1,1.1)" class="tk">0.8</text><text transform="translate(417.8,233.1) scale(1,1.1)" class="tk">1.0</text><text transform="translate(27.1,29.5) rotate(-90) scale(1,1.1)" class="tk">1.0</text><path d="M49.5 218.4V224.4M34.9 211.4H28.9M123.16 218.4V224.4M34.9 175.02H28.9M196.82 218.4V224.4M34.9 138.64H28.9M270.48 218.4V224.4M34.9 102.26H28.9M344.14 218.4V224.4M34.9 65.88H28.9M417.8 218.4V224.4M34.9 29.5H28.9" stroke="#000" stroke-width="1" fill="none"/><text x="233.85" y="17.4" class="ti" textLength="87.3" lengthAdjust="spacingAndGlyphs">Parabolic</text><text transform="translate(11.7,120.4) rotate(-90)" class="yl">Empirical Power</text><text x="234.6" y="247.9" class="xl">κ</text></g><g transform="translate(0,252)"><g clip-path="url(#cb)"><path d="M54.8 29.6L85.12 29.6M95.72 29.72L126.05 30.39M135.16 34.18L168.45 66.22M175.26 74.26L210.19 125.23M217.6 132.54L249.7 153.9M258.77 159.35L290.37 176.45M300.26 179.86L330.73 184.99M341.23 186.43L371.61 189.67M382.18 190.3L412.5 190.7" stroke="#0000FF" stroke-width="1.15" fill="none"/><circle cx="49.5" cy="29.6" r="2.85" stroke="#0000FF" stroke-width="1.25" fill="none"/><circle cx="90.42" cy="29.6" r="2.85" stroke="#0000FF" stroke-width="1.25" fill="none"/><circle cx="131.34" cy="30.51" r="2.85" stroke="#0000FF" stroke-width="1.25" fill="none"/><circle cx="172.27" cy="69.89" r="2.85" stroke="#0000FF" stroke-width="1.25" fill="none"/><circle cx="213.19" cy="129.61" r="2.85" stroke="#0000FF" stroke-width="1.25" fill="none"/><circle cx="254.11" cy="156.83" r="2.85" stroke="#0000FF" stroke-width="1.25" fill="none"/><circle cx="295.03" cy="178.97" r="2.85" stroke="#0000FF" stroke-width="1.25" fill="none"/><circle cx="335.96" cy="185.87" r="2.85" stroke="#0000FF" stroke-width="1.25" fill="none"/><circle cx="376.88" cy="190.23" r="2.85" stroke="#0000FF" stroke-width="1.25" fill="none"/><circle cx="417.8" cy="190.77" r="2.85" stroke="#0000FF" stroke-width="1.25" fill="none"/><path d="M53.91 32.54L86.01 53.89M93.53 61.12L128.23 108.98M134.89 117.21L168.72 154.71M177.2 160.59L208.26 172.85M218.32 176.12L248.98 184.01M259.37 185.96L289.77 189.6M300.33 190.23L330.66 190.23M341.24 190.67L371.6 193.23M382.18 193.79L412.5 194.47" stroke="#CD1076" stroke-width="1.15" fill="none"/><path d="M49.5 33.72L53.07 27.54L45.93 27.54Z" stroke="#CD1076" stroke-width="1.25" fill="none"/><path d="M90.42 60.95L93.99 54.76L86.85 54.76Z" stroke="#CD1076" stroke-width="1.25" fill="none"/><path d="M131.34 117.39L134.91 111.21L127.77 111.21Z" stroke="#CD1076" stroke-width="1.25" fill="none"/><path d="M172.27 162.77L175.84 156.59L168.7 156.59Z" stroke="#CD1076" stroke-width="1.25" fill="none"/><path d="M213.19 178.92L216.76 172.74L209.62 172.74Z" stroke="#CD1076" stroke-width="1.25" fill="none"/><path d="M254.11 189.45L257.68 183.27L250.54 183.27Z" stroke="#CD1076" stroke-width="1.25" fill="none"/><path d="M295.03 194.35L298.6 188.17L291.46 188.17Z" stroke="#CD1076" stroke-width="1.25" fill="none"/><path d="M335.96 194.35L339.53 188.17L332.39 188.17Z" stroke="#CD1076" stroke-width="1.25" fill="none"/><path d="M376.88 197.8L380.45 191.62L373.31 191.62Z" stroke="#CD1076" stroke-width="1.25" fill="none"/><path d="M417.8 198.71L421.37 192.52L414.23 192.52Z" stroke="#CD1076" stroke-width="1.25" fill="none"/><path d="M54.8 29.72L85.12 30.39M94.83 33.46L126.94 54.96M134.21 62.37L169.4 116.98M175.82 125.37L209.64 162.88M218.13 168.74L249.17 180.86M259.24 184.11L289.9 191.99M300.33 193.48L330.66 194.42M341.21 195.26L371.62 199.17M382.17 199.66L412.5 198.58" stroke="#A52A2A" stroke-width="1.15" fill="none"/><rect x="46.97" y="27.07" width="5.05" height="5.05" stroke="#A52A2A" stroke-width="1.25" fill="none"/><rect x="87.9" y="27.98" width="5.05" height="5.05" stroke="#A52A2A" stroke-width="1.25" fill="none"/><rect x="128.82" y="55.39" width="5.05" height="5.05" stroke="#A52A2A" stroke-width="1.25" fill="none"/><rect x="169.74" y="118.91" width="5.05" height="5.05" stroke="#A52A2A" stroke-width="1.25" fill="none"/><rect x="210.66" y="164.29" width="5.05" height="5.05" stroke="#A52A2A" stroke-width="1.25" fill="none"/><rect x="251.59" y="180.26" width="5.05" height="5.05" stroke="#A52A2A" stroke-width="1.25" fill="none"/><rect x="292.51" y="190.79" width="5.05" height="5.05" stroke="#A52A2A" stroke-width="1.25" fill="none"/><rect x="333.43" y="192.06" width="5.05" height="5.05" stroke="#A52A2A" stroke-width="1.25" fill="none"/><rect x="374.35" y="197.32" width="5.05" height="5.05" stroke="#A52A2A" stroke-width="1.25" fill="none"/><rect x="415.27" y="195.87" width="5.05" height="5.05" stroke="#A52A2A" stroke-width="1.25" fill="none"/><path d="M54.8 29.6L85.12 29.6M95.72 29.6L126.04 29.6M136.64 29.81L166.97 31.02M176.93 33.76L208.53 50.85M216.62 57.41L250.68 97.44M257.59 105.47L291.55 144.48M299.69 151.02L331.3 168.27M340.96 172.56L371.88 183.39M382.18 185.24L412.5 185.78" stroke="#FF0000" stroke-width="1.15" fill="none"/><circle cx="49.5" cy="29.6" r="2.71" fill="#FF0000"/><circle cx="90.42" cy="29.6" r="2.71" fill="#FF0000"/><circle cx="131.34" cy="29.6" r="2.71" fill="#FF0000"/><circle cx="172.27" cy="31.23" r="2.71" fill="#FF0000"/><circle cx="213.19" cy="53.38" r="2.71" fill="#FF0000"/><circle cx="254.11" cy="101.47" r="2.71" fill="#FF0000"/><circle cx="295.03" cy="148.48" r="2.71" fill="#FF0000"/><circle cx="335.96" cy="170.81" r="2.71" fill="#FF0000"/><circle cx="376.88" cy="185.15" r="2.71" fill="#FF0000"/><circle cx="417.8" cy="185.87" r="2.71" fill="#FF0000"/><path d="M54.8 29.6L85.12 29.6M95.72 29.6L126.04 29.6M136.64 29.6L166.97 29.6M177.56 29.83L207.89 31.18M218.37 32.54L248.93 39.18M258.51 43.27L290.64 64.93M299.28 71.06L331.71 95.22M340.39 101.3L372.45 122.34M381.61 127.64L413.07 143.55" stroke="#FF7F50" stroke-width="1.15" fill="none"/><path d="M46.65 26.75L52.35 32.45M46.65 32.45L52.35 26.75M45.47 29.6H53.53M49.5 25.57V33.63" stroke="#FF7F50" stroke-width="1.25" fill="none"/><path d="M87.57 26.75L93.27 32.45M87.57 32.45L93.27 26.75M86.39 29.6H94.45M90.42 25.57V33.63" stroke="#FF7F50" stroke-width="1.25" fill="none"/><path d="M128.49 26.75L134.19 32.45M128.49 32.45L134.19 26.75M127.31 29.6H135.37M131.34 25.57V33.63" stroke="#FF7F50" stroke-width="1.25" fill="none"/><path d="M169.42 26.75L175.12 32.45M169.42 32.45L175.12 26.75M168.24 29.6H176.3M172.27 25.57V33.63" stroke="#FF7F50" stroke-width="1.25" fill="none"/><path d="M210.34 28.56L216.04 34.26M210.34 34.26L216.04 28.56M209.16 31.41H217.22M213.19 27.38V35.45" stroke="#FF7F50" stroke-width="1.25" fill="none"/><path d="M251.26 37.46L256.96 43.16M251.26 43.16L256.96 37.46M250.08 40.31H258.14M254.11 36.28V44.34" stroke="#FF7F50" stroke-width="1.25" fill="none"/><path d="M292.18 65.05L297.88 70.75M292.18 70.75L297.88 65.05M291 67.9H299.06M295.03 63.87V71.93" stroke="#FF7F50" stroke-width="1.25" fill="none"/><path d="M333.11 95.54L338.81 101.24M333.11 101.24L338.81 95.54M331.93 98.39H339.99M335.96 94.36V102.42" stroke="#FF7F50" stroke-width="1.25" fill="none"/><path d="M374.03 122.4L379.73 128.1M374.03 128.1L379.73 122.4M372.85 125.25H380.91M376.88 121.22V129.28" stroke="#FF7F50" stroke-width="1.25" fill="none"/><path d="M414.95 143.09L420.65 148.79M414.95 148.79L420.65 143.09M413.77 145.94H421.83M417.8 141.91V149.97" stroke="#FF7F50" stroke-width="1.25" fill="none"/><path d="M54.8 29.6L85.12 29.6M95.72 29.6L126.04 29.6M136.58 30.44L167.03 35.3M175.88 40.01L209.58 76.18M216.61 84.11L250.69 124.47M258.01 132.11L291.14 162.68M300.3 166.85L330.69 170.22M340.95 172.58L371.88 183.55M382.14 185.96L412.54 189.6" stroke="#006400" stroke-width="1.15" fill="none"/><path d="M49.5 25.48L53.07 31.66L45.93 31.66Z" stroke="#006400" stroke-width="1.25" fill="none"/><path d="M90.42 25.48L93.99 31.66L86.85 31.66Z" stroke="#006400" stroke-width="1.25" fill="none"/><path d="M131.34 25.48L134.91 31.66L127.77 31.66Z" stroke="#006400" stroke-width="1.25" fill="none"/><path d="M172.27 32.01L175.84 38.19L168.7 38.19Z" stroke="#006400" stroke-width="1.25" fill="none"/><path d="M213.19 75.94L216.76 82.12L209.62 82.12Z" stroke="#006400" stroke-width="1.25" fill="none"/><path d="M254.11 124.4L257.68 130.58L250.54 130.58Z" stroke="#006400" stroke-width="1.25" fill="none"/><path d="M295.03 162.15L298.6 168.33L291.46 168.33Z" stroke="#006400" stroke-width="1.25" fill="none"/><path d="M335.96 166.69L339.53 172.87L332.39 172.87Z" stroke="#006400" stroke-width="1.25" fill="none"/><path d="M376.88 181.21L380.45 187.39L373.31 187.39Z" stroke="#006400" stroke-width="1.25" fill="none"/><path d="M417.8 186.11L421.37 192.29L414.23 192.29Z" stroke="#006400" stroke-width="1.25" fill="none"/><path d="M54.8 29.6L85.12 29.6M95.72 29.6L126.04 29.6M136.61 30.18L167 33.55M175.33 38.46L210.12 87.53M215.95 96.38L251.35 154.31M258.16 162.25L290.99 190.07M300.32 193.87L330.67 196.02M341.16 197.39L371.67 203.21M382.18 204.25L412.5 204.52" stroke="#000000" stroke-width="1.15" fill="none"/><path d="M46.76 26.86H52.24V32.34H46.76ZM46.76 26.86L52.24 32.34M46.76 32.34L52.24 26.86" stroke="#000000" stroke-width="1.23" fill="none"/><path d="M87.69 26.86H93.16V32.34H87.69ZM87.69 26.86L93.16 32.34M87.69 32.34L93.16 26.86" stroke="#000000" stroke-width="1.23" fill="none"/><path d="M128.61 26.86H134.08V32.34H128.61ZM128.61 26.86L134.08 32.34M128.61 32.34L134.08 26.86" stroke="#000000" stroke-width="1.23" fill="none"/><path d="M169.53 31.4H175V36.87H169.53ZM169.53 31.4L175 36.87M169.53 36.87L175 31.4" stroke="#000000" stroke-width="1.23" fill="none"/><path d="M210.45 89.12H215.92V94.59H210.45ZM210.45 89.12L215.92 94.59M210.45 94.59L215.92 89.12" stroke="#000000" stroke-width="1.23" fill="none"/><path d="M251.38 156.09H256.85V161.56H251.38ZM251.38 156.09L256.85 161.56M251.38 161.56L256.85 156.09" stroke="#000000" stroke-width="1.23" fill="none"/><path d="M292.3 190.76H297.77V196.23H292.3ZM292.3 190.76L297.77 196.23M292.3 196.23L297.77 190.76" stroke="#000000" stroke-width="1.23" fill="none"/><path d="M333.22 193.66H338.69V199.13H333.22ZM333.22 193.66L338.69 199.13M333.22 199.13L338.69 193.66" stroke="#000000" stroke-width="1.23" fill="none"/><path d="M374.14 201.47H379.61V206.94H374.14ZM374.14 201.47L379.61 206.94M374.14 206.94L379.61 201.47" stroke="#000000" stroke-width="1.23" fill="none"/><path d="M415.06 201.83H420.54V207.3H415.06ZM415.06 201.83L420.54 207.3M415.06 207.3L420.54 201.83" stroke="#000000" stroke-width="1.23" fill="none"/><path d="M54.8 29.6L85.12 29.6M95.72 29.81L126.05 31.02M135.44 34.6L168.17 61.45M175.35 69.12L210.1 117.67M217.62 124.89L249.68 145.94M258.57 151.71L290.58 172.3M300.28 175.88L330.7 180.07M341.18 181.67L371.65 186.81M382.18 187.69L412.5 187.69" stroke="#FF4500" stroke-width="1.15" fill="none"/><path d="M45.63 29.6L49.5 25.73L53.37 29.6L49.5 33.47Z" stroke="#FF4500" stroke-width="1.25" fill="none"/><path d="M86.55 29.6L90.42 25.73L94.29 29.6L90.42 33.47Z" stroke="#FF4500" stroke-width="1.25" fill="none"/><path d="M127.48 31.23L131.34 27.36L135.21 31.23L131.34 35.1Z" stroke="#FF4500" stroke-width="1.25" fill="none"/><path d="M168.4 64.81L172.27 60.94L176.14 64.81L172.27 68.68Z" stroke="#FF4500" stroke-width="1.25" fill="none"/><path d="M209.32 121.98L213.19 118.11L217.06 121.98L213.19 125.85Z" stroke="#FF4500" stroke-width="1.25" fill="none"/><path d="M250.24 148.85L254.11 144.98L257.98 148.85L254.11 152.71Z" stroke="#FF4500" stroke-width="1.25" fill="none"/><path d="M291.16 175.16L295.03 171.29L298.9 175.16L295.03 179.03Z" stroke="#FF4500" stroke-width="1.25" fill="none"/><path d="M332.09 180.79L335.96 176.92L339.82 180.79L335.96 184.66Z" stroke="#FF4500" stroke-width="1.25" fill="none"/><path d="M373.01 187.69L376.88 183.82L380.75 187.69L376.88 191.56Z" stroke="#FF4500" stroke-width="1.25" fill="none"/><path d="M413.93 187.69L417.8 183.82L421.67 187.69L417.8 191.56Z" stroke="#FF4500" stroke-width="1.25" fill="none"/><path d="M54.8 29.6L85.12 29.6M95.72 29.6L126.04 29.6M136.19 31.75L167.42 45.6M175.46 51.98L209.99 97.61M216.93 105.59L250.37 139.1M258.54 145.76L290.6 166.81M300.04 171.47L330.95 182.3M341.25 184.29L371.58 185.64M382.18 185.78L412.5 185.24" stroke="#00008B" stroke-width="1.15" fill="none"/><path d="M45.47 29.6H53.53M49.5 25.57V33.63" stroke="#00008B" stroke-width="1.25" fill="none"/><path d="M86.39 29.6H94.45M90.42 25.57V33.63" stroke="#00008B" stroke-width="1.25" fill="none"/><path d="M127.31 29.6H135.37M131.34 25.57V33.63" stroke="#00008B" stroke-width="1.25" fill="none"/><path d="M168.24 47.75H176.3M172.27 43.72V51.78" stroke="#00008B" stroke-width="1.25" fill="none"/><path d="M209.16 101.84H217.22M213.19 97.81V105.87" stroke="#00008B" stroke-width="1.25" fill="none"/><path d="M250.08 142.86H258.14M254.11 138.83V146.89" stroke="#00008B" stroke-width="1.25" fill="none"/><path d="M291 169.72H299.06M295.03 165.69V173.75" stroke="#00008B" stroke-width="1.25" fill="none"/><path d="M331.93 184.06H339.99M335.96 180.03V188.09" stroke="#00008B" stroke-width="1.25" fill="none"/><path d="M372.85 185.87H380.91M376.88 181.84V189.9" stroke="#00008B" stroke-width="1.25" fill="none"/><path d="M413.77 185.15H421.83M417.8 181.12V189.18" stroke="#00008B" stroke-width="1.25" fill="none"/><path d="M54.8 29.6L85.12 29.6M95.58 30.81L126.19 38.01M134.46 43.51L169.15 91.2M175.51 99.68L209.95 144.29M217.82 151.07L249.48 168.77M259.09 173.16L290.05 184.42M300.33 186.42L330.66 187.5M341.23 188.25L371.61 191.48M382.18 192.04L412.5 192.04" stroke="#A020F0" stroke-width="1.15" fill="none"/><path d="M46.65 26.75L52.35 32.45M46.65 32.45L52.35 26.75" stroke="#A020F0" stroke-width="1.25" fill="none"/><path d="M87.57 26.75L93.27 32.45M87.57 32.45L93.27 26.75" stroke="#A020F0" stroke-width="1.25" fill="none"/><path d="M128.49 36.37L134.19 42.07M128.49 42.07L134.19 36.37" stroke="#A020F0" stroke-width="1.25" fill="none"/><path d="M169.42 92.63L175.12 98.33M169.42 98.33L175.12 92.63" stroke="#A020F0" stroke-width="1.25" fill="none"/><path d="M210.34 145.63L216.04 151.33M210.34 151.33L216.04 145.63" stroke="#A020F0" stroke-width="1.25" fill="none"/><path d="M251.26 168.5L256.96 174.2M251.26 174.2L256.96 168.5" stroke="#A020F0" stroke-width="1.25" fill="none"/><path d="M292.18 183.38L297.88 189.08M292.18 189.08L297.88 183.38" stroke="#A020F0" stroke-width="1.25" fill="none"/><path d="M333.11 184.84L338.81 190.54M333.11 190.54L338.81 184.84" stroke="#A020F0" stroke-width="1.25" fill="none"/><path d="M374.03 189.19L379.73 194.89M374.03 194.89L379.73 189.19" stroke="#A020F0" stroke-width="1.25" fill="none"/><path d="M414.95 189.19L420.65 194.89M414.95 194.89L420.65 189.19" stroke="#A020F0" stroke-width="1.25" fill="none"/></g><rect x="34.9" y="22.5" width="397.7" height="195.9" fill="none" stroke="#000" stroke-width="1"/><text transform="translate(49.5,233.1) scale(1,1.1)" class="tk">0.0</text><text transform="translate(27.1,211.4) rotate(-90) scale(1,1.1)" class="tk">0.0</text><text transform="translate(123.16,233.1) scale(1,1.1)" class="tk">0.2</text><text transform="translate(27.1,175.02) rotate(-90) scale(1,1.1)" class="tk">0.2</text><text transform="translate(196.82,233.1) scale(1,1.1)" class="tk">0.4</text><text transform="translate(27.1,138.64) rotate(-90) scale(1,1.1)" class="tk">0.4</text><text transform="translate(270.48,233.1) scale(1,1.1)" class="tk">0.6</text><text transform="translate(27.1,102.26) rotate(-90) scale(1,1.1)" class="tk">0.6</text><text transform="translate(344.14,233.1) scale(1,1.1)" class="tk">0.8</text><text transform="translate(27.1,65.88) rotate(-90) scale(1,1.1)" class="tk">0.8</text><text transform="translate(417.8,233.1) scale(1,1.1)" class="tk">1.0</text><text transform="translate(27.1,29.5) rotate(-90) scale(1,1.1)" class="tk">1.0</text><path d="M49.5 218.4V224.4M34.9 211.4H28.9M123.16 218.4V224.4M34.9 175.02H28.9M196.82 218.4V224.4M34.9 138.64H28.9M270.48 218.4V224.4M34.9 102.26H28.9M344.14 218.4V224.4M34.9 65.88H28.9M417.8 218.4V224.4M34.9 29.5H28.9" stroke="#000" stroke-width="1" fill="none"/><text x="233.85" y="17.4" class="ti" textLength="54.2" lengthAdjust="spacingAndGlyphs">Circle</text><text transform="translate(11.7,120.4) rotate(-90)" class="yl">Empirical Power</text><text x="234.6" y="247.9" class="xl">κ</text></g><g transform="translate(438.5,252)"><g clip-path="url(#cb)"><path d="M54.8 29.79L85.13 30.86M94.36 34.6L127.41 64.35M134.06 72.45L169.55 131.95M177.01 138.86L208.44 154.47M218.16 158.66L249.14 170.07M259.3 172.98L289.84 179.34M300.31 180.87L330.67 183.43M341.22 184.46L371.61 187.83M382.17 188.18L412.51 186.83" stroke="#0000FF" stroke-width="1.15" fill="none"/><circle cx="49.5" cy="29.6" r="2.85" stroke="#0000FF" stroke-width="1.25" fill="none"/><circle cx="90.42" cy="31.05" r="2.85" stroke="#0000FF" stroke-width="1.25" fill="none"/><circle cx="131.34" cy="67.9" r="2.85" stroke="#0000FF" stroke-width="1.25" fill="none"/><circle cx="172.27" cy="136.5" r="2.85" stroke="#0000FF" stroke-width="1.25" fill="none"/><circle cx="213.19" cy="156.83" r="2.85" stroke="#0000FF" stroke-width="1.25" fill="none"/><circle cx="254.11" cy="171.9" r="2.85" stroke="#0000FF" stroke-width="1.25" fill="none"/><circle cx="295.03" cy="180.43" r="2.85" stroke="#0000FF" stroke-width="1.25" fill="none"/><circle cx="335.96" cy="183.88" r="2.85" stroke="#0000FF" stroke-width="1.25" fill="none"/><circle cx="376.88" cy="188.41" r="2.85" stroke="#0000FF" stroke-width="1.25" fill="none"/><circle cx="417.8" cy="186.6" r="2.85" stroke="#0000FF" stroke-width="1.25" fill="none"/><path d="M52.7 89.18L87.22 134.82M94.7 142.17L127.07 165.86M136.44 170.46L167.17 179.32M177.56 180.95L207.89 181.9M218.48 182.44L248.82 184.59M259.4 185.25L289.74 186.86M300.33 187.4L330.66 188.88M341.25 189.4L371.58 190.88M382.17 190.9L412.51 189.55" stroke="#CD1076" stroke-width="1.15" fill="none"/><path d="M49.5 89.08L53.07 82.9L45.93 82.9Z" stroke="#CD1076" stroke-width="1.25" fill="none"/><path d="M90.42 143.17L93.99 136.98L86.85 136.98Z" stroke="#CD1076" stroke-width="1.25" fill="none"/><path d="M131.34 173.11L134.91 166.93L127.77 166.93Z" stroke="#CD1076" stroke-width="1.25" fill="none"/><path d="M172.27 184.91L175.84 178.73L168.7 178.73Z" stroke="#CD1076" stroke-width="1.25" fill="none"/><path d="M213.19 186.18L216.76 180L209.62 180Z" stroke="#CD1076" stroke-width="1.25" fill="none"/><path d="M254.11 189.09L257.68 182.9L250.54 182.9Z" stroke="#CD1076" stroke-width="1.25" fill="none"/><path d="M295.03 191.26L298.6 185.08L291.46 185.08Z" stroke="#CD1076" stroke-width="1.25" fill="none"/><path d="M335.96 193.26L339.53 187.08L332.39 187.08Z" stroke="#CD1076" stroke-width="1.25" fill="none"/><path d="M376.88 195.26L380.45 189.07L373.31 189.07Z" stroke="#CD1076" stroke-width="1.25" fill="none"/><path d="M417.8 193.44L421.37 187.26L414.23 187.26Z" stroke="#CD1076" stroke-width="1.25" fill="none"/><path d="M54.25 105.28L85.68 120.9M94.17 127.01L127.6 160.52M136.11 166.6L167.5 181.91M177.43 185.45L208.03 192.64M218.49 193.86L248.81 193.86M259.4 194.16L289.74 195.91M300.33 196.43L330.66 197.64M341.26 197.9L371.58 198.17M382.18 198.28L412.5 198.69" stroke="#A52A2A" stroke-width="1.15" fill="none"/><rect x="46.97" y="100.4" width="5.05" height="5.05" stroke="#A52A2A" stroke-width="1.25" fill="none"/><rect x="87.9" y="120.73" width="5.05" height="5.05" stroke="#A52A2A" stroke-width="1.25" fill="none"/><rect x="128.82" y="161.75" width="5.05" height="5.05" stroke="#A52A2A" stroke-width="1.25" fill="none"/><rect x="169.74" y="181.71" width="5.05" height="5.05" stroke="#A52A2A" stroke-width="1.25" fill="none"/><rect x="210.66" y="191.33" width="5.05" height="5.05" stroke="#A52A2A" stroke-width="1.25" fill="none"/><rect x="251.59" y="191.33" width="5.05" height="5.05" stroke="#A52A2A" stroke-width="1.25" fill="none"/><rect x="292.51" y="193.69" width="5.05" height="5.05" stroke="#A52A2A" stroke-width="1.25" fill="none"/><rect x="333.43" y="195.32" width="5.05" height="5.05" stroke="#A52A2A" stroke-width="1.25" fill="none"/><rect x="374.35" y="195.69" width="5.05" height="5.05" stroke="#A52A2A" stroke-width="1.25" fill="none"/><rect x="415.27" y="196.23" width="5.05" height="5.05" stroke="#A52A2A" stroke-width="1.25" fill="none"/><path d="M54.8 29.65L85.12 29.92M95.04 32.56L126.73 50.41M134.97 56.88L168.65 92.88M176.4 100.07L209.06 126.29M218.22 131.28L249.08 141.55M259.1 145.01L290.05 156.13M300.13 159.39L330.86 168.25M341.11 170.93L371.72 178.12M382.16 179.81L412.52 182.5" stroke="#FF0000" stroke-width="1.15" fill="none"/><circle cx="49.5" cy="29.6" r="2.71" fill="#FF0000"/><circle cx="90.42" cy="29.96" r="2.71" fill="#FF0000"/><circle cx="131.34" cy="53.01" r="2.71" fill="#FF0000"/><circle cx="172.27" cy="96.75" r="2.71" fill="#FF0000"/><circle cx="213.19" cy="129.61" r="2.71" fill="#FF0000"/><circle cx="254.11" cy="143.22" r="2.71" fill="#FF0000"/><circle cx="295.03" cy="157.92" r="2.71" fill="#FF0000"/><circle cx="335.96" cy="169.72" r="2.71" fill="#FF0000"/><circle cx="376.88" cy="179.34" r="2.71" fill="#FF0000"/><circle cx="417.8" cy="182.97" r="2.71" fill="#FF0000"/><path d="M54.8 29.6L85.12 29.6M95.72 29.6L126.04 29.6M136.63 29.95L166.98 31.97M177.42 33.58L208.04 41.05M218.3 43.69L249 51.99M259.06 55.27L290.08 67.1M299.35 72.07L331.64 95.13M341.07 99.59L371.76 107.89M381.65 111.59L413.03 126.76" stroke="#FF7F50" stroke-width="1.15" fill="none"/><path d="M46.65 26.75L52.35 32.45M46.65 32.45L52.35 26.75M45.47 29.6H53.53M49.5 25.57V33.63" stroke="#FF7F50" stroke-width="1.25" fill="none"/><path d="M87.57 26.75L93.27 32.45M87.57 32.45L93.27 26.75M86.39 29.6H94.45M90.42 25.57V33.63" stroke="#FF7F50" stroke-width="1.25" fill="none"/><path d="M128.49 26.75L134.19 32.45M128.49 32.45L134.19 26.75M127.31 29.6H135.37M131.34 25.57V33.63" stroke="#FF7F50" stroke-width="1.25" fill="none"/><path d="M169.42 29.47L175.12 35.17M169.42 35.17L175.12 29.47M168.24 32.32H176.3M172.27 28.29V36.35" stroke="#FF7F50" stroke-width="1.25" fill="none"/><path d="M210.34 39.45L216.04 45.15M210.34 45.15L216.04 39.45M209.16 42.3H217.22M213.19 38.27V46.34" stroke="#FF7F50" stroke-width="1.25" fill="none"/><path d="M251.26 50.53L256.96 56.23M251.26 56.23L256.96 50.53M250.08 53.38H258.14M254.11 49.35V57.41" stroke="#FF7F50" stroke-width="1.25" fill="none"/><path d="M292.18 66.14L297.88 71.84M292.18 71.84L297.88 66.14M291 68.99H299.06M295.03 64.96V73.02" stroke="#FF7F50" stroke-width="1.25" fill="none"/><path d="M333.11 95.36L338.81 101.06M333.11 101.06L338.81 95.36M331.93 98.21H339.99M335.96 94.18V102.24" stroke="#FF7F50" stroke-width="1.25" fill="none"/><path d="M374.03 106.43L379.73 112.13M374.03 112.13L379.73 106.43M372.85 109.28H380.91M376.88 105.25V113.31" stroke="#FF7F50" stroke-width="1.25" fill="none"/><path d="M414.95 126.21L420.65 131.91M414.95 131.91L420.65 126.21M413.77 129.06H421.83M417.8 125.03V133.09" stroke="#FF7F50" stroke-width="1.25" fill="none"/><path d="M54.8 29.6L85.12 29.6M95.72 29.67L126.04 30.07M134.63 34.31L168.99 77.89M174.9 86.65L210.56 148.96M217.83 156.12L249.47 173.52M259.25 177.37L289.89 185.12M300.3 187.05L330.69 190.69M341.25 191.41L371.58 191.95M382.18 192.18L412.5 192.99" stroke="#006400" stroke-width="1.15" fill="none"/><path d="M49.5 25.48L53.07 31.66L45.93 31.66Z" stroke="#006400" stroke-width="1.25" fill="none"/><path d="M90.42 25.48L93.99 31.66L86.85 31.66Z" stroke="#006400" stroke-width="1.25" fill="none"/><path d="M131.34 26.02L134.91 32.21L127.77 32.21Z" stroke="#006400" stroke-width="1.25" fill="none"/><path d="M172.27 77.93L175.84 84.11L168.7 84.11Z" stroke="#006400" stroke-width="1.25" fill="none"/><path d="M213.19 149.44L216.76 155.63L209.62 155.63Z" stroke="#006400" stroke-width="1.25" fill="none"/><path d="M254.11 171.95L257.68 178.13L250.54 178.13Z" stroke="#006400" stroke-width="1.25" fill="none"/><path d="M295.03 182.29L298.6 188.48L291.46 188.48Z" stroke="#006400" stroke-width="1.25" fill="none"/><path d="M335.96 187.19L339.53 193.38L332.39 193.38Z" stroke="#006400" stroke-width="1.25" fill="none"/><path d="M376.88 187.92L380.45 194.1L373.31 194.1Z" stroke="#006400" stroke-width="1.25" fill="none"/><path d="M417.8 189.01L421.37 195.19L414.23 195.19Z" stroke="#006400" stroke-width="1.25" fill="none"/><path d="M54.8 29.6L85.12 29.6M95.7 30.11L126.07 33.08M135.21 37.21L168.4 68.27M175.79 75.85L209.66 113.85M218.02 119.99L249.28 134.14M259.38 136.91L289.77 140.28M300.12 142.35L330.87 151.35M341.04 154.35L371.8 163.49M382.17 165.28L412.51 166.9" stroke="#000000" stroke-width="1.15" fill="none"/><path d="M46.76 26.86H52.24V32.34H46.76ZM46.76 26.86L52.24 32.34M46.76 32.34L52.24 26.86" stroke="#000000" stroke-width="1.23" fill="none"/><path d="M87.69 26.86H93.16V32.34H87.69ZM87.69 26.86L93.16 32.34M87.69 32.34L93.16 26.86" stroke="#000000" stroke-width="1.23" fill="none"/><path d="M128.61 30.86H134.08V36.33H128.61ZM128.61 30.86L134.08 36.33M128.61 36.33L134.08 30.86" stroke="#000000" stroke-width="1.23" fill="none"/><path d="M169.53 69.15H175V74.63H169.53ZM169.53 69.15L175 74.63M169.53 74.63L175 69.15" stroke="#000000" stroke-width="1.23" fill="none"/><path d="M210.45 115.07H215.92V120.55H210.45ZM210.45 115.07L215.92 120.55M210.45 120.55L215.92 115.07" stroke="#000000" stroke-width="1.23" fill="none"/><path d="M251.38 133.59H256.85V139.06H251.38ZM251.38 133.59L256.85 139.06M251.38 139.06L256.85 133.59" stroke="#000000" stroke-width="1.23" fill="none"/><path d="M292.3 138.12H297.77V143.6H292.3ZM292.3 138.12L297.77 143.6M292.3 143.6L297.77 138.12" stroke="#000000" stroke-width="1.23" fill="none"/><path d="M333.22 150.1H338.69V155.57H333.22ZM333.22 150.1L338.69 155.57M333.22 155.57L338.69 150.1" stroke="#000000" stroke-width="1.23" fill="none"/><path d="M374.14 162.26H379.61V167.73H374.14ZM374.14 162.26L379.61 167.73M374.14 167.73L379.61 162.26" stroke="#000000" stroke-width="1.23" fill="none"/><path d="M415.06 164.44H420.54V169.91H415.06ZM415.06 164.44L420.54 169.91M415.06 169.91L420.54 164.44" stroke="#000000" stroke-width="1.23" fill="none"/><path d="M54.8 29.69L85.12 30.23M94.54 33.67L127.23 60.2M134.16 68.03L169.45 124.39M176.77 131.68L208.69 151.49M218.26 155.84L249.04 165.26M259.29 167.94L289.85 174.58M300.31 176.18L330.68 178.87M341.17 180.26L371.66 185.67M382.16 186.13L412.52 183.44" stroke="#FF4500" stroke-width="1.15" fill="none"/><path d="M45.63 29.6L49.5 25.73L53.37 29.6L49.5 33.47Z" stroke="#FF4500" stroke-width="1.25" fill="none"/><path d="M86.55 30.33L90.42 26.46L94.29 30.33L90.42 34.2Z" stroke="#FF4500" stroke-width="1.25" fill="none"/><path d="M127.48 63.54L131.34 59.67L135.21 63.54L131.34 67.41Z" stroke="#FF4500" stroke-width="1.25" fill="none"/><path d="M168.4 128.88L172.27 125.01L176.14 128.88L172.27 132.75Z" stroke="#FF4500" stroke-width="1.25" fill="none"/><path d="M209.32 154.29L213.19 150.42L217.06 154.29L213.19 158.16Z" stroke="#FF4500" stroke-width="1.25" fill="none"/><path d="M250.24 166.81L254.11 162.94L257.98 166.81L254.11 170.68Z" stroke="#FF4500" stroke-width="1.25" fill="none"/><path d="M291.16 175.71L295.03 171.84L298.9 175.71L295.03 179.58Z" stroke="#FF4500" stroke-width="1.25" fill="none"/><path d="M332.09 179.34L335.96 175.47L339.82 179.34L335.96 183.21Z" stroke="#FF4500" stroke-width="1.25" fill="none"/><path d="M373.01 186.6L376.88 182.73L380.75 186.6L376.88 190.47Z" stroke="#FF4500" stroke-width="1.25" fill="none"/><path d="M413.93 182.97L417.8 179.1L421.67 182.97L417.8 186.84Z" stroke="#FF4500" stroke-width="1.25" fill="none"/><path d="M54.78 31.88L85.14 34.58M94.22 38.75L127.55 71.27M134.28 79.39L169.33 132.09M176.92 139.04L208.54 156.29M218.3 160.21L249 168.52M259.29 171.03L289.85 177.67M300.32 179.17L330.67 181.32M341.25 181.86L371.58 182.8M382.18 182.97L412.5 182.97" stroke="#00008B" stroke-width="1.15" fill="none"/><path d="M45.47 31.41H53.53M49.5 27.38V35.45" stroke="#00008B" stroke-width="1.25" fill="none"/><path d="M86.39 35.04H94.45M90.42 31.01V39.08" stroke="#00008B" stroke-width="1.25" fill="none"/><path d="M127.31 74.97H135.37M131.34 70.94V79.01" stroke="#00008B" stroke-width="1.25" fill="none"/><path d="M168.24 136.5H176.3M172.27 132.47V140.53" stroke="#00008B" stroke-width="1.25" fill="none"/><path d="M209.16 158.83H217.22M213.19 154.8V162.86" stroke="#00008B" stroke-width="1.25" fill="none"/><path d="M250.08 169.9H258.14M254.11 165.87V173.93" stroke="#00008B" stroke-width="1.25" fill="none"/><path d="M291 178.79H299.06M295.03 174.76V182.82" stroke="#00008B" stroke-width="1.25" fill="none"/><path d="M331.93 181.7H339.99M335.96 177.67V185.73" stroke="#00008B" stroke-width="1.25" fill="none"/><path d="M372.85 182.97H380.91M376.88 178.94V187" stroke="#00008B" stroke-width="1.25" fill="none"/><path d="M413.77 182.97H421.83M417.8 178.94V187" stroke="#00008B" stroke-width="1.25" fill="none"/><path d="M54.79 30.38L85.13 31.72M93.42 36.33L128.34 87.12M134.24 95.93L169.37 149.85M177.2 156.22L208.25 168.34M218.46 170.85L248.84 174.22M259.25 176.1L289.89 183.85M300.33 185.43L330.66 187.04M341.24 187.7L371.59 189.85M382.17 189.88L412.51 187.86" stroke="#A020F0" stroke-width="1.15" fill="none"/><path d="M46.65 27.29L52.35 32.99M46.65 32.99L52.35 27.29" stroke="#A020F0" stroke-width="1.25" fill="none"/><path d="M87.57 29.11L93.27 34.81M87.57 34.81L93.27 29.11" stroke="#A020F0" stroke-width="1.25" fill="none"/><path d="M128.49 88.64L134.19 94.34M128.49 94.34L134.19 88.64" stroke="#A020F0" stroke-width="1.25" fill="none"/><path d="M169.42 151.44L175.12 157.14M169.42 157.14L175.12 151.44" stroke="#A020F0" stroke-width="1.25" fill="none"/><path d="M210.34 167.41L216.04 173.11M210.34 173.11L216.04 167.41" stroke="#A020F0" stroke-width="1.25" fill="none"/><path d="M251.26 171.95L256.96 177.65M251.26 177.65L256.96 171.95" stroke="#A020F0" stroke-width="1.25" fill="none"/><path d="M292.18 182.3L297.88 188M292.18 188L297.88 182.3" stroke="#A020F0" stroke-width="1.25" fill="none"/><path d="M333.11 184.47L338.81 190.17M333.11 190.17L338.81 184.47" stroke="#A020F0" stroke-width="1.25" fill="none"/><path d="M374.03 187.38L379.73 193.08M374.03 193.08L379.73 187.38" stroke="#A020F0" stroke-width="1.25" fill="none"/><path d="M414.95 184.66L420.65 190.35M414.95 190.35L420.65 184.66" stroke="#A020F0" stroke-width="1.25" fill="none"/></g><rect x="34.9" y="22.5" width="397.7" height="195.9" fill="none" stroke="#000" stroke-width="1"/><text transform="translate(49.5,233.1) scale(1,1.1)" class="tk">0.0</text><text transform="translate(27.1,211.4) rotate(-90) scale(1,1.1)" class="tk">0.0</text><text transform="translate(123.16,233.1) scale(1,1.1)" class="tk">0.2</text><text transform="translate(27.1,175.02) rotate(-90) scale(1,1.1)" class="tk">0.2</text><text transform="translate(196.82,233.1) scale(1,1.1)" class="tk">0.4</text><text transform="translate(27.1,138.64) rotate(-90) scale(1,1.1)" class="tk">0.4</text><text transform="translate(270.48,233.1) scale(1,1.1)" class="tk">0.6</text><text transform="translate(27.1,102.26) rotate(-90) scale(1,1.1)" class="tk">0.6</text><text transform="translate(344.14,233.1) scale(1,1.1)" class="tk">0.8</text><text transform="translate(27.1,65.88) rotate(-90) scale(1,1.1)" class="tk">0.8</text><text transform="translate(417.8,233.1) scale(1,1.1)" class="tk">1.0</text><text transform="translate(27.1,29.5) rotate(-90) scale(1,1.1)" class="tk">1.0</text><path d="M49.5 218.4V224.4M34.9 211.4H28.9M123.16 218.4V224.4M34.9 175.02H28.9M196.82 218.4V224.4M34.9 138.64H28.9M270.48 218.4V224.4M34.9 102.26H28.9M344.14 218.4V224.4M34.9 65.88H28.9M417.8 218.4V224.4M34.9 29.5H28.9" stroke="#000" stroke-width="1" fill="none"/><text x="233.85" y="17.4" class="ti" textLength="130.6" lengthAdjust="spacingAndGlyphs">Checkerboard</text><text transform="translate(11.7,120.4) rotate(-90)" class="yl">Empirical Power</text><text x="234.6" y="247.9" class="xl">κ</text></g></svg></body></html>
